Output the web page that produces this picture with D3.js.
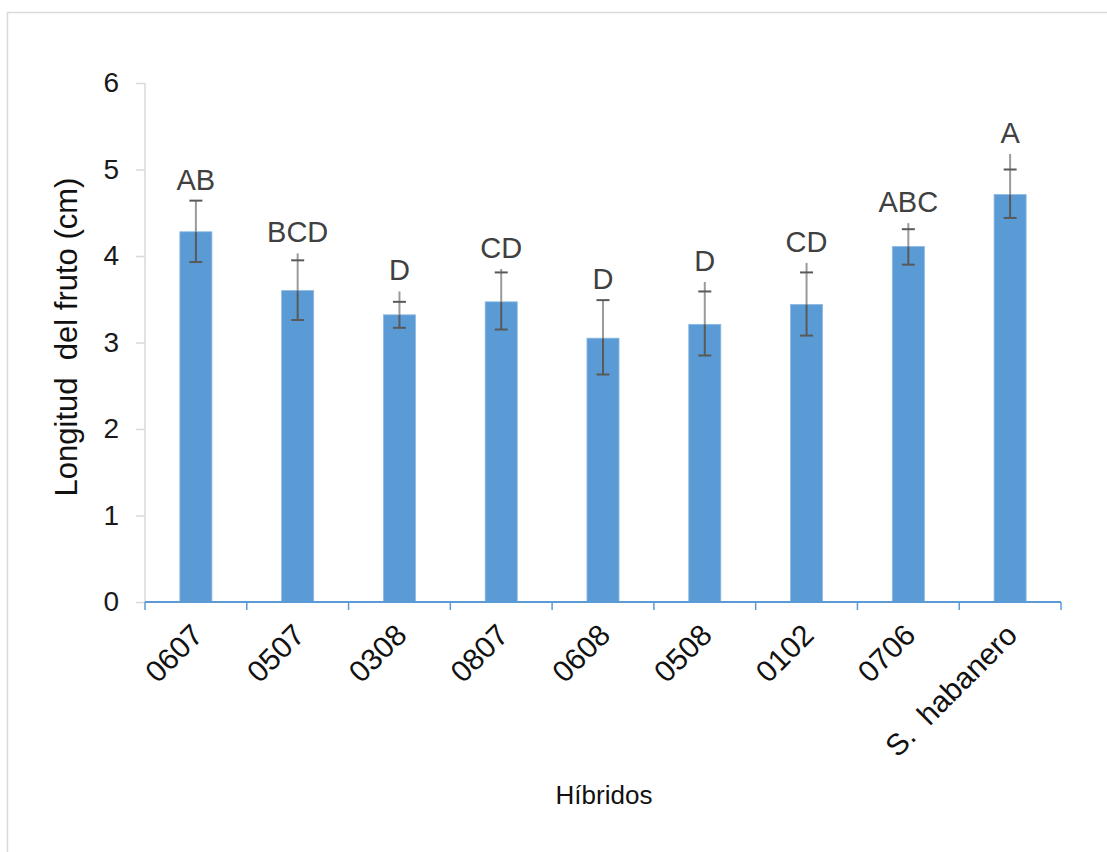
<!DOCTYPE html>
<html>
<head>
<meta charset="utf-8">
<script src="https://cdn.jsdelivr.net/npm/d3@7"></script>
<style>
  html, body { margin: 0; padding: 0; background: #fff; }
  svg { display: block; font-family: "Liberation Sans", Arial, sans-serif; }
</style>
</head>
<body>
<svg id="chart" width="1107" height="852"></svg>
<script>
// Fruit length per hybrid (cm), with error bar extents and significance letters
const categories = ["0607", "0507", "0308", "0807", "0608", "0508", "0102", "0706", "S.  habanero"];
const means      = [4.28, 3.60, 3.32, 3.47, 3.05, 3.21, 3.44, 4.11, 4.71];
const errHigh    = [4.64, 3.95, 3.47, 3.81, 3.49, 3.59, 3.81, 4.31, 5.00];
const errLow     = [3.93, 3.26, 3.17, 3.15, 2.63, 2.85, 3.08, 3.90, 4.44];
const errExt     = [4.64, 4.03, 3.59, 3.85, 3.49, 3.70, 3.92, 4.38, 5.18];
const letters    = ["AB", "BCD", "D", "CD", "D", "D", "CD", "ABC", "A"];
const yTicks     = [0, 1, 2, 3, 4, 5, 6];

const rows = categories.map((c, i) => ({
  cat: c, mean: means[i], hi: errHigh[i], lo: errLow[i], ext: errExt[i], letter: letters[i]
}));

const svg = d3.select("#chart");

// frame
svg.append("path")
  .attr("d", "M7.5,852 L7.5,12.5 L1107,12.5")
  .attr("fill", "none").attr("stroke", "#d9d9d9").attr("stroke-width", 1.5);

const x = d3.scaleBand().domain(categories).range([145, 1061]);
const y = d3.scaleLinear().domain([0, 6]).range([602, 83]);
const barW = x.bandwidth() * 0.315;

// y axis
const yAxis = svg.append("g").attr("transform", "translate(145,0)")
  .call(d3.axisLeft(y).tickValues(yTicks).tickFormat(d3.format("d")).tickSize(9).tickPadding(17));
yAxis.select(".domain").attr("stroke", "#d9d9d9").attr("stroke-width", 1.5)
  .attr("d", `M0,${y(6)}V${y(0)}`);
yAxis.selectAll(".tick line").attr("stroke", "#d9d9d9").attr("stroke-width", 1.5);
yAxis.selectAll(".tick text").attr("font-size", 28).attr("fill", "#1a1a1a")
  .attr("font-family", "Liberation Sans, Arial, sans-serif");

// bars
svg.append("g").selectAll("rect").data(rows).join("rect")
  .attr("x", d => x(d.cat) + x.bandwidth() / 2 - barW / 2)
  .attr("y", d => y(d.mean))
  .attr("width", barW)
  .attr("height", d => y(0) - y(d.mean))
  .attr("fill", "#5b9bd5")
  .attr("stroke", "#8db9e2").attr("stroke-width", 0.8);

// x axis
const xAxis = svg.append("g").attr("transform", `translate(0,${y(0)})`);
xAxis.append("line").attr("x1", 145).attr("x2", 1061).attr("y1", 0).attr("y2", 0)
  .attr("stroke", "#5b9bd5").attr("stroke-width", 2);
const bounds = categories.map(c => x(c)).concat([x.range()[1]]);
xAxis.selectAll("line.tk").data(bounds).join("line").attr("class", "tk")
  .attr("x1", d => d).attr("x2", d => d).attr("y1", 0).attr("y2", 8)
  .attr("stroke", "#5b9bd5").attr("stroke-width", 1.5);
xAxis.selectAll("text").data(categories).join("text")
  .attr("transform", d => `translate(${x(d) + x.bandwidth() / 2 + 9},${35}) rotate(-45)`)
  .attr("text-anchor", "end")
  .attr("font-size", 30).attr("fill", "#111")
  .attr("xml:space", "preserve")
  .text(d => d);

// error bars
const eb = svg.append("g").selectAll("g").data(rows).join("g");
const cx = d => x(d.cat) + x.bandwidth() / 2;
eb.append("line") // upper stem
  .attr("x1", cx).attr("x2", cx)
  .attr("y1", d => y(Math.max(d.hi, d.ext))).attr("y2", d => y(d.mean))
  .attr("stroke", "#9a9a9a").attr("stroke-width", 2);
eb.append("line") // lower stem
  .attr("x1", cx).attr("x2", cx)
  .attr("y1", d => y(d.mean)).attr("y2", d => y(d.lo))
  .attr("stroke", "#595959").attr("stroke-width", 2);
eb.append("line") // upper cap
  .attr("x1", d => cx(d) - 6.5).attr("x2", d => cx(d) + 6.5)
  .attr("y1", d => y(d.hi)).attr("y2", d => y(d.hi))
  .attr("stroke", "#595959").attr("stroke-width", 2);
eb.append("line") // lower cap
  .attr("x1", d => cx(d) - 6.5).attr("x2", d => cx(d) + 6.5)
  .attr("y1", d => y(d.lo)).attr("y2", d => y(d.lo))
  .attr("stroke", "#595959").attr("stroke-width", 2);

// significance letters
svg.append("g").selectAll("text").data(rows).join("text")
  .attr("x", cx)
  .attr("y", d => y(Math.max(d.hi, d.ext)) - 11)
  .attr("text-anchor", "middle")
  .attr("font-size", 29).attr("fill", "#404040")
  .text(d => d.letter);

// axis titles
svg.append("text")
  .attr("transform", "translate(77,337) rotate(-90)")
  .attr("text-anchor", "middle")
  .attr("font-size", 31).attr("fill", "#111")
  .attr("xml:space", "preserve")
  .text("Longitud  del fruto (cm)");

svg.append("text")
  .attr("x", 604).attr("y", 804)
  .attr("text-anchor", "middle")
  .attr("font-size", 26).attr("fill", "#111")
  .text("Híbridos");
</script>
</body>
</html>
